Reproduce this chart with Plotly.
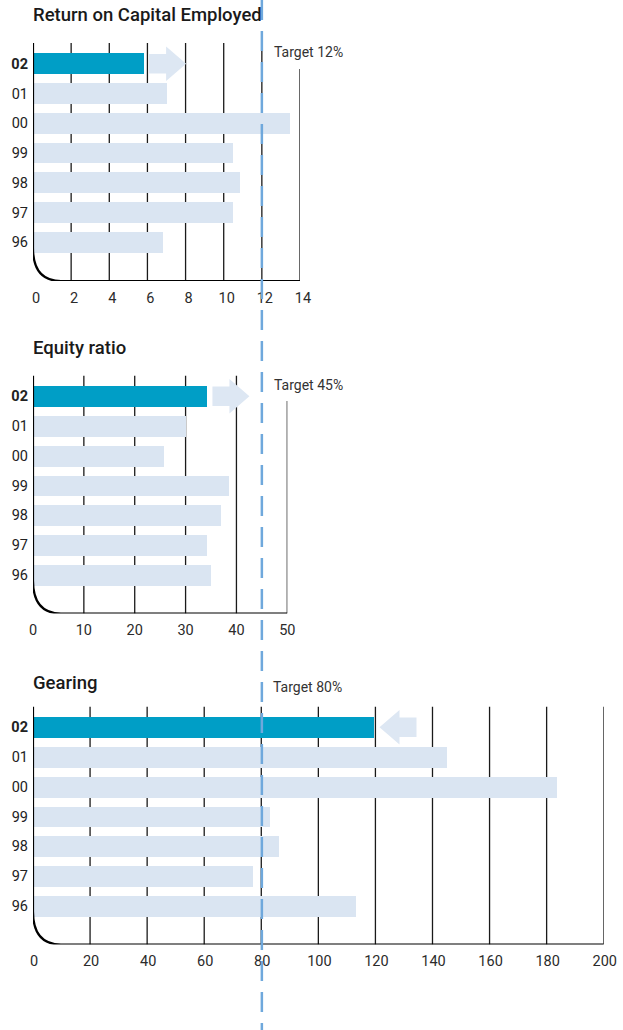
import plotly.graph_objects as go

# ---- data -------------------------------------------------------------
years = ["96", "97", "98", "99", "00", "01", "02"]
roce = [6.8, 10.5, 10.85, 10.5, 13.5, 7.0, 5.8]
equity_ratio = [35.0, 34.2, 37.0, 38.5, 25.7, 30.0, 34.2]
gearing = [113.2, 77.1, 86.2, 83.0, 183.8, 145.0, 119.5]

titles = ["Return on Capital Employed", "Equity ratio", "Gearing"]
targets = [12, 45, 80]
target_labels = ["Target 12%", "Target 45%", "Target 80%"]
ticks_roce = [0, 2, 4, 6, 8, 10, 12, 14]
ticks_equity = [0, 10, 20, 30, 40, 50]
ticks_gearing = [0, 20, 40, 60, 80, 100, 120, 140, 160, 180, 200]

# ---- styling / layout ---------------------------------------------------
W, H = 623, 1030
HIGHLIGHT = "#009ec6"
LIGHT = "#dae5f2"
ARROW = "#dde7f3"
TARGET_LINE = "#6fa8dc"
INK = "#1a1a1a"
NUM_FONT = "Roboto, sans-serif"
TXT_FONT = "Roboto, sans-serif"

ZERO_PX = 33.0          # left edge of every value axis
PANEL_H = 238.0         # plot-area height of each panel
Y_LO, Y_HI = -1.3, 6.7  # row range (bars sit on rows 0..6)

# offsets (px) of the title / target label relative to each panel's top edge
panels = [
    dict(values=roce, ticks=ticks_roce, right_px=300.0, top_px=43.0,
         arrow_dir=1, last_grid_top=5.83, label_dy=8.7, title_dy=-28.0,
         tick_shift=3),
    dict(values=equity_ratio, ticks=ticks_equity, right_px=287.3, top_px=375.5,
         arrow_dir=1, last_grid_top=5.84, label_dy=9.5, title_dy=-27.2,
         tick_shift=0),
    dict(values=gearing, ticks=ticks_gearing, right_px=603.7, top_px=706.5,
         arrow_dir=-1, last_grid_top=Y_HI, label_dy=-19.8, title_dy=-23.2,
         tick_shift=1),
]

fig = go.Figure()
shapes = []
annotations = []
rows = list(range(len(years)))

for i, p in enumerate(panels):
    n = "" if i == 0 else str(i + 1)
    xa, ya = "x" + n, "y" + n
    xmax = p["ticks"][-1]
    px_per_unit = (p["right_px"] - ZERO_PX) / xmax
    px_per_row = PANEL_H / (Y_HI - Y_LO)

    colors = [HIGHLIGHT if y == years[-1] else LIGHT for y in years]
    fig.add_trace(go.Bar(
        x=p["values"], y=rows, orientation="h", width=0.7,
        marker=dict(color=colors, line=dict(width=0)),
        xaxis=xa, yaxis=ya, hoverinfo="skip", showlegend=False,
    ))

    fig.layout["xaxis" + n] = dict(
        domain=[ZERO_PX / W, p["right_px"] / W], range=[0, xmax],
        anchor=ya, tickvals=p["ticks"], showgrid=False, zeroline=False,
        showline=False, ticks="", ticklabelstandoff=6,
        ticklabelshift=p["tick_shift"], automargin=False,
        tickfont=dict(family=NUM_FONT, size=14.5, color="#2b2b2b"),
        fixedrange=True,
    )
    fig.layout["yaxis" + n] = dict(
        domain=[1 - (p["top_px"] + PANEL_H) / H, 1 - p["top_px"] / H],
        range=[Y_LO, Y_HI], anchor=xa, tickvals=rows,
        ticktext=["<b>%s</b>" % y if y == years[-1] else y for y in years],
        showgrid=False, zeroline=False, showline=False, ticks="",
        ticklabelstandoff=4, automargin=False,
        tickfont=dict(family=NUM_FONT, size=14.5, color="#222"),
        fixedrange=True,
    )

    # vertical grid lines behind the bars
    for t in p["ticks"][1:]:
        top = p["last_grid_top"] if t == xmax else Y_HI
        shapes.append(dict(type="line", xref=xa, yref=ya, x0=t, x1=t,
                           y0=Y_LO, y1=top, layer="below",
                           line=dict(color=INK, width=1.3)))

    # L-shaped axis with rounded corner
    rx = 28.0 / px_per_unit
    ry = 33.0 / px_per_row
    path = "M 0,{top} L 0,{cy} Q 0,{lo} {cx},{lo} L {xr},{lo}".format(
        top=Y_HI, cy=Y_LO + ry, lo=Y_LO, cx=rx, xr=xmax)
    shapes.append(dict(type="path", xref=xa, yref=ya, path=path,
                       layer="above", line=dict(color="#000", width=2.2)))

    # direction arrow next to the latest bar
    g, bl, bh, hl, hh = 5.5, 17.0, 9.8, 20.0, 17.3
    if p["arrow_dir"] > 0:
        pts = [(g, -bh), (g + bl, -bh), (g + bl, -hh), (g + bl + hl, 0),
               (g + bl, hh), (g + bl, bh), (g, bh)]
    else:
        pts = [(g, 0), (g + hl, -hh), (g + hl, -bh), (g + hl + bl, -bh),
               (g + hl + bl, bh), (g + hl, bh), (g + hl, hh)]
    apath = "M " + " L ".join("%g,%g" % pt for pt in pts) + " Z"
    shapes.append(dict(type="path", xref=xa, yref=ya,
                       xsizemode="pixel", xanchor=p["values"][-1],
                       ysizemode="pixel", yanchor=rows[-1],
                       path=apath, fillcolor=ARROW, layer="below",
                       line=dict(width=0)))

    annotations.append(dict(
        text=titles[i], xref="paper", yref="paper", x=31 / W,
        y=1 - (p["top_px"] + p["title_dy"]) / H,
        xanchor="left", yanchor="middle", showarrow=False,
        font=dict(family=TXT_FONT, size=18.5, color=INK, weight=500),
    ))
    annotations.append(dict(
        text=target_labels[i], xref=xa, yref="paper", x=targets[i], xshift=10,
        y=1 - (p["top_px"] + p["label_dy"]) / H,
        xanchor="left", yanchor="middle", showarrow=False,
        font=dict(family=TXT_FONT, size=14, color="#333"),
    ))

# common target line through all three panels
shapes.append(dict(type="line", xref="x", yref="paper", x0=targets[0],
                   x1=targets[0], y0=1, y1=0, layer="above",
                   line=dict(color=TARGET_LINE, width=2.5, dash="20px,11px")))

fig.update_layout(
    width=W, height=H, autosize=False,
    margin=dict(l=0, r=0, t=0, b=0),
    paper_bgcolor="white", plot_bgcolor="rgba(0,0,0,0)",
    shapes=shapes, annotations=annotations, bargap=0,
    showlegend=False,
)

fig.write_html("out.html", config={"displayModeBar": False})
